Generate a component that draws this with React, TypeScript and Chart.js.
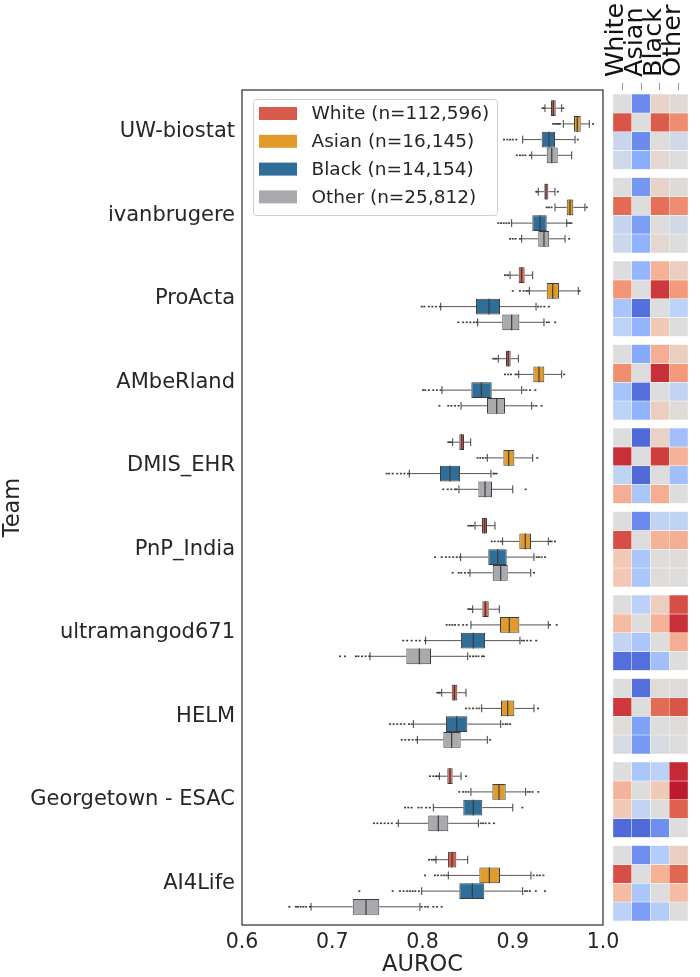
import { useEffect, useRef } from 'react';
import { Chart, registerables } from 'chart.js';
Chart.register(...registerables);

const FONT = "'DejaVu Sans', sans-serif";
Chart.defaults.font.family = FONT;

const teams = ['UW-biostat', 'ivanbrugere', 'ProActa', 'AMbeRland', 'DMIS_EHR', 'PnP_India', 'ultramangod671', 'HELM', 'Georgetown - ESAC', 'AI4Life'];
const groups = ['White', 'Asian', 'Black', 'Other'];
const groupCounts = ['112,596', '16,145', '14,154', '25,812'];
const groupColors = ['#d65b4b', '#e09b2b', '#2e6e98', '#a8aaad'];
const xTicks = [0.6, 0.7, 0.8, 0.9, 1.0];

// [lower whisker, q1, median, q3, upper whisker]
const whiteStats = [
  [0.9357, 0.9424, 0.9450, 0.9476, 0.9542],
  [0.9283, 0.9350, 0.9368, 0.9394, 0.9468],
  [0.8970, 0.9066, 0.9099, 0.9132, 0.9221],
  [0.8840, 0.8925, 0.8951, 0.8977, 0.9062],
  [0.8334, 0.8408, 0.8434, 0.8460, 0.8534],
  [0.8582, 0.8659, 0.8689, 0.8715, 0.8803],
  [0.8556, 0.8663, 0.8696, 0.8734, 0.8851],
  [0.8213, 0.8324, 0.8353, 0.8386, 0.8482],
  [0.8187, 0.8275, 0.8305, 0.8334, 0.8427],
  [0.8150, 0.8283, 0.8327, 0.8375, 0.8501],
];
const asianStats = [
  [0.9560, 0.9679, 0.9715, 0.9753, 0.9848],
  [0.9468, 0.9598, 0.9634, 0.9671, 0.9800],
  [0.9184, 0.9376, 0.9443, 0.9512, 0.9726],
  [0.9066, 0.9228, 0.9291, 0.9350, 0.9542],
  [0.8718, 0.8896, 0.8955, 0.9018, 0.9221],
  [0.8888, 0.9073, 0.9139, 0.9202, 0.9394],
  [0.8537, 0.8859, 0.8962, 0.9073, 0.9394],
  [0.8656, 0.8870, 0.8944, 0.9018, 0.9235],
  [0.8537, 0.8774, 0.8848, 0.8922, 0.9143],
  [0.8286, 0.8630, 0.8741, 0.8859, 0.9202],
];
const blackStats = [
  [0.9110, 0.9320, 0.9402, 0.9468, 0.9690],
  [0.8988, 0.9217, 0.9302, 0.9376, 0.9598],
  [0.8202, 0.8593, 0.8737, 0.8859, 0.9258],
  [0.8216, 0.8541, 0.8652, 0.8767, 0.9099],
  [0.7854, 0.8194, 0.8305, 0.8416, 0.8759],
  [0.8423, 0.8729, 0.8833, 0.8933, 0.9235],
  [0.8035, 0.8427, 0.8563, 0.8693, 0.9080],
  [0.7899, 0.8260, 0.8379, 0.8497, 0.8866],
  [0.8120, 0.8452, 0.8563, 0.8663, 0.9000],
  [0.7991, 0.8408, 0.8552, 0.8685, 0.9110],
];
const otherStats = [
  [0.9210, 0.9376, 0.9432, 0.9498, 0.9653],
  [0.9099, 0.9283, 0.9346, 0.9404, 0.9579],
  [0.8611, 0.8884, 0.8988, 0.9073, 0.9346],
  [0.8427, 0.8715, 0.8822, 0.8914, 0.9210],
  [0.8404, 0.8619, 0.8693, 0.8770, 0.9000],
  [0.8526, 0.8778, 0.8866, 0.8944, 0.9199],
  [0.7418, 0.7821, 0.7965, 0.8094, 0.8501],
  [0.7943, 0.8231, 0.8323, 0.8423, 0.8718],
  [0.7732, 0.8064, 0.8175, 0.8286, 0.8619],
  [0.6765, 0.7227, 0.7374, 0.7521, 0.7972],
];

const whiteFliers = [
  [0.933, 0.9345, 0.956],
  [0.926, 0.927, 0.950],
  [0.8914, 0.894, 0.895],
  [0.8785, 0.8805, 0.8822],
  [0.8286, 0.8305, 0.8315],
  [0.8508, 0.853, 0.8545, 0.8563],
  [0.8508, 0.852, 0.854],
  [0.8164, 0.818, 0.8194],
  [0.8083, 0.812, 0.815, 0.8175, 0.8482],
  [0.8072, 0.810, 0.812, 0.8139],
];
const asianFliers = [
  [0.9447, 0.947, 0.949, 0.951, 0.9525, 0.989],
  [0.9376, 0.940, 0.943, 0.982],
  [0.900, 0.908, 0.912, 0.915, 0.917, 0.974],
  [0.8914, 0.895, 0.898, 0.903, 0.905, 0.957],
  [0.861, 0.864, 0.867, 0.870, 0.9272],
  [0.8767, 0.880, 0.884, 0.887, 0.9413, 0.943, 0.9468],
  [0.8268, 0.830, 0.833, 0.836, 0.840, 0.845, 0.849, 0.9413, 0.9487],
  [0.8482, 0.852, 0.856, 0.860, 0.863, 0.928],
  [0.8408, 0.845, 0.848, 0.851, 0.9166, 0.919, 0.922, 0.9283],
  [0.8028, 0.8139, 0.817, 0.821, 0.824, 0.8268, 0.923, 0.927, 0.930, 0.934],
];
const blackFliers = [
  [0.8903, 0.894, 0.897, 0.900, 0.904, 0.972],
  [0.884, 0.887, 0.890, 0.893, 0.896, 0.961, 0.963, 0.965],
  [0.7991, 0.802, 0.807, 0.811, 0.815, 0.8194, 0.928, 0.931, 0.935, 0.940],
  [0.8006, 0.803, 0.807, 0.812, 0.816, 0.820, 0.912, 0.915, 0.919, 0.925],
  [0.7603, 0.763, 0.767, 0.772, 0.776, 0.780, 0.784, 0.8785, 0.880, 0.882],
  [0.8139, 0.8213, 0.826, 0.830, 0.834, 0.838, 0.8416, 0.9265, 0.929, 0.932, 0.9357],
  [0.7787, 0.783, 0.788, 0.793, 0.797, 0.8028, 0.910, 0.9125, 0.916, 0.920, 0.926],
  [0.764, 0.768, 0.772, 0.776, 0.780, 0.785, 0.788, 0.889, 0.892, 0.894, 0.897],
  [0.7806, 0.7843, 0.788, 0.7955, 0.799, 0.804, 0.808, 0.9106],
  [0.730, 0.767, 0.775, 0.779, 0.783, 0.786, 0.789, 0.792, 0.796, 0.9136, 0.916, 0.919, 0.9255, 0.9357],
];
const otherFliers = [
  [0.9044, 0.908, 0.911, 0.914, 0.919],
  [0.897, 0.900, 0.903, 0.908, 0.9625],
  [0.8397, 0.845, 0.849, 0.853, 0.857, 0.860, 0.9376, 0.940, 0.947],
  [0.8187, 0.8286, 0.832, 0.836, 0.840, 0.923, 0.926, 0.932],
  [0.823, 0.828, 0.832, 0.836, 0.838, 0.9143],
  [0.8334, 0.840, 0.843, 0.847, 0.8508, 0.9235],
  [0.7086, 0.7141, 0.7263, 0.729, 0.733, 0.737, 0.7411, 0.8526, 0.856, 0.859, 0.862, 0.866, 0.868],
  [0.777, 0.781, 0.785, 0.789, 0.793, 0.875],
  [0.7463, 0.750, 0.754, 0.758, 0.762, 0.766, 0.7714, 0.8645, 0.867, 0.870, 0.874, 0.8792],
  [0.6524, 0.6598, 0.662, 0.665, 0.668, 0.671, 0.6753, 0.7991, 0.803, 0.806, 0.812, 0.816, 0.8213],
];

// pairwise matrix per team: rows / columns = White, Asian, Black, Other (value in [-1, 1])
const heatValues = [
  [[0, -0.7, 0.1, 0.03], [0.78, 0, 0.76, 0.56], [-0.14, -0.7, 0, -0.08], [-0.1, -0.52, 0.07, 0]],
  [[0, -0.64, 0.1, 0.03], [0.7, 0, 0.68, 0.56], [-0.16, -0.6, 0, -0.08], [-0.12, -0.48, 0.07, 0]],
  [[0, -0.46, 0.36, 0.15], [0.52, 0, 0.86, 0.5], [-0.34, -0.84, 0, -0.22], [-0.22, -0.46, 0.2, 0]],
  [[0, -0.53, 0.38, 0.15], [0.55, 0, 0.88, 0.5], [-0.36, -0.84, 0, -0.18], [-0.22, -0.48, 0.15, 0.02]],
  [[0, -0.86, 0.12, -0.38], [0.88, 0, 0.84, 0.36], [-0.2, -0.86, 0, -0.38], [0.38, -0.33, 0.38, 0]],
  [[0, -0.7, -0.2, -0.2], [0.8, 0, 0.36, 0.38], [0.2, -0.33, 0, 0.02], [0.22, -0.33, 0.02, 0]],
  [[0, -0.23, 0.15, 0.8], [0.3, 0, 0.36, 0.88], [-0.18, -0.33, 0, 0.38], [-0.84, -0.84, -0.38, 0]],
  [[0, -0.84, 0.02, 0.02], [0.86, 0, 0.7, 0.78], [0.02, -0.58, 0, 0.02], [-0.05, -0.62, -0.05, 0]],
  [[0, -0.33, -0.23, 0.9], [0.35, 0, 0.2, 0.94], [0.2, -0.18, 0, 0.75], [-0.86, -0.86, -0.68, 0]],
  [[0, -0.68, -0.28, 0.15], [0.8, 0, 0.36, 0.72], [0.3, -0.33, 0, 0.3], [-0.23, -0.6, -0.28, 0]],
];

const stats = [whiteStats, asianStats, blackStats, otherStats];
const fliers = [whiteFliers, asianFliers, blackFliers, otherFliers];

const cwStops = [
  [58, 76, 193], [98, 130, 234], [141, 176, 254], [184, 208, 249], [221, 221, 221],
  [245, 196, 173], [244, 154, 123], [222, 96, 77], [180, 4, 38],
];
function coolwarm(v: number): string {
  const p = Math.min(1, Math.max(0, (v + 1) / 2)) * 8;
  const i = Math.min(7, Math.floor(p));
  const f = p - i;
  const a = cwStops[i];
  const b = cwStops[i + 1];
  const c = a.map((x, k) => Math.round(x + (b[k] - x) * f));
  return `rgb(${c[0]},${c[1]},${c[2]})`;
}

const TEXT = '#262626';
const EDGE = '#3c3c3c';

const boxPlugin = {
  id: 'boxExtras',
  beforeDatasetsDraw(chart: any) {
    const ctx = chart.ctx;
    const xs = chart.scales.x;
    ctx.save();
    stats.forEach((grp, i) => {
      const meta = chart.getDatasetMeta(i);
      grp.forEach((s, j) => {
        const el = meta.data[j];
        const y = el.y;
        const h = el.height;
        ctx.strokeStyle = '#555';
        ctx.lineWidth = 1;
        ctx.beginPath();
        ctx.moveTo(xs.getPixelForValue(s[0]), y);
        ctx.lineTo(xs.getPixelForValue(s[1]), y);
        ctx.moveTo(xs.getPixelForValue(s[3]), y);
        ctx.lineTo(xs.getPixelForValue(s[4]), y);
        ctx.stroke();
        ctx.strokeStyle = EDGE;
        ctx.beginPath();
        [s[0], s[4]].forEach((v) => {
          const px = xs.getPixelForValue(v);
          ctx.moveTo(px, y - h / 4);
          ctx.lineTo(px, y + h / 4);
        });
        ctx.stroke();
        ctx.fillStyle = '#3a3a3a';
        fliers[i][j].forEach((v) => {
          const px = xs.getPixelForValue(v);
          ctx.fillRect(px - 1, y - 0.8, 2, 1.6);
        });
      });
    });
    ctx.restore();
  },
  afterDatasetsDraw(chart: any) {
    const ctx = chart.ctx;
    const xs = chart.scales.x;
    ctx.save();
    ctx.strokeStyle = EDGE;
    ctx.lineWidth = 1.2;
    stats.forEach((grp, i) => {
      const meta = chart.getDatasetMeta(i);
      grp.forEach((s, j) => {
        const el = meta.data[j];
        const px = xs.getPixelForValue(s[2]);
        ctx.beginPath();
        ctx.moveTo(px, el.y - el.height / 2);
        ctx.lineTo(px, el.y + el.height / 2);
        ctx.stroke();
      });
    });
    ctx.restore();
  },
  afterDraw(chart: any) {
    const ctx = chart.ctx;
    const a = chart.chartArea;
    ctx.save();
    ctx.strokeStyle = '#333';
    ctx.lineWidth = 1.25;
    ctx.strokeRect(a.left, a.top, a.right - a.left, a.bottom - a.top);
    // legend
    const lx = a.left + 11;
    const ly = a.top + 9;
    const lw = 244;
    const lh = 116;
    ctx.fillStyle = 'rgba(255,255,255,0.9)';
    ctx.strokeStyle = '#d0d0d0';
    ctx.lineWidth = 1;
    ctx.beginPath();
    ctx.roundRect(lx + 0.5, ly + 0.5, lw, lh, 3);
    ctx.fill();
    ctx.stroke();
    ctx.font = `18.5px ${FONT}`;
    ctx.textBaseline = 'middle';
    ctx.textAlign = 'left';
    chart.data.datasets.forEach((ds: any, i: number) => {
      const cy = ly + 14.5 + i * 27.8;
      ctx.fillStyle = ds.backgroundColor;
      ctx.fillRect(lx + 6, cy - 6.5, 38, 13);
      ctx.fillStyle = TEXT;
      ctx.fillText(ds.label, lx + 58.5, cy + 1);
    });
    ctx.restore();
  },
};

export default function App() {
  const mainRef = useRef<HTMLCanvasElement>(null);
  const heatRef = useRef<HTMLCanvasElement>(null);

  useEffect(() => {
    const main = new Chart(mainRef.current as HTMLCanvasElement, {
      type: 'bar',
      data: {
        labels: teams,
        datasets: groups.map((g, i) => ({
          label: `${g} (n=${groupCounts[i]})`,
          data: stats[i].map((s) => [s[1], s[3]]),
          backgroundColor: groupColors[i],
          borderColor: EDGE,
          borderWidth: 1,
          borderSkipped: false,
          categoryPercentage: 0.752,
          barPercentage: 1,
        })),
      } as any,
      options: {
        indexAxis: 'y',
        responsive: false,
        animation: false,
        devicePixelRatio: 1,
        layout: { padding: { left: 0, right: 97, top: 90, bottom: 0 } },
        scales: {
          x: {
            type: 'linear',
            min: 0.6,
            max: 1.0,
            afterBuildTicks: (scale: any) => {
              scale.ticks = xTicks.map((v) => ({ value: v }));
            },
            ticks: {
              callback: (v: any) => Number(v).toFixed(1),
              font: { size: 20.5 },
              color: TEXT,
              padding: 5,
            },
            grid: { display: false, drawTicks: false },
            border: { display: false },
            title: { display: true, text: 'AUROC', font: { size: 22.5 }, color: TEXT, padding: { top: 0, bottom: -2 } },
            afterFit: (s: any) => {
              s.height = 52;
            },
          },
          y: {
            type: 'category',
            grid: { display: false, drawTicks: false },
            border: { display: false },
            ticks: { font: { size: 21 }, color: TEXT, padding: 7, autoSkip: false },
            title: { display: true, text: 'Team', font: { size: 22.5 }, color: TEXT, padding: 0 },
            afterFit: (s: any) => {
              s.width = 242;
            },
          },
        },
        plugins: { legend: { display: false }, tooltip: { enabled: false } },
      } as any,
      plugins: [boxPlugin],
    });

    const heatDatasets: any[] = [];
    heatValues.forEach((block, t) => {
      block.forEach((row, r) => {
        heatDatasets.push({
          label: `${teams[t]} ${groups[r]}`,
          data: row.map(() => [t + 0.05 + r * 0.225, t + 0.05 + (r + 1) * 0.225]),
          backgroundColor: row.map(coolwarm),
          borderColor: 'rgba(255,255,255,0.75)',
          borderWidth: 0.5,
          borderSkipped: false,
          grouped: false,
          categoryPercentage: 1,
          barPercentage: 1,
        });
      });
    });

    const heat = new Chart(heatRef.current as HTMLCanvasElement, {
      type: 'bar',
      data: { labels: groups, datasets: heatDatasets },
      options: {
        responsive: false,
        animation: false,
        devicePixelRatio: 1,
        layout: { padding: { left: 613, right: 12, top: 0, bottom: 52 } },
        scales: {
          x: {
            type: 'category',
            position: 'top',
            grid: { display: true, drawOnChartArea: false, drawTicks: true, tickLength: 7, color: '#999', offset: false },
            border: { display: false },
            ticks: { font: { size: 25.5 }, color: '#111', minRotation: 90, maxRotation: 90, padding: 6, autoSkip: false, labelOffset: 25 },
            afterFit: (s: any) => {
              s.height = 90;
            },
          },
          y: { type: 'linear', min: 0, max: 10, reverse: true, display: false },
        },
        plugins: { legend: { display: false }, tooltip: { enabled: false } },
      } as any,
    });

    return () => {
      main.destroy();
      heat.destroy();
    };
  }, []);

  return (
    <div style={{ position: 'absolute', left: 0, top: 0, width: 700, height: 977, background: '#fff' }}>
      <canvas ref={mainRef} width={700} height={977} style={{ position: 'absolute', left: 0, top: 0 }} />
      <canvas ref={heatRef} width={700} height={977} style={{ position: 'absolute', left: 0, top: 0 }} />
    </div>
  );
}
